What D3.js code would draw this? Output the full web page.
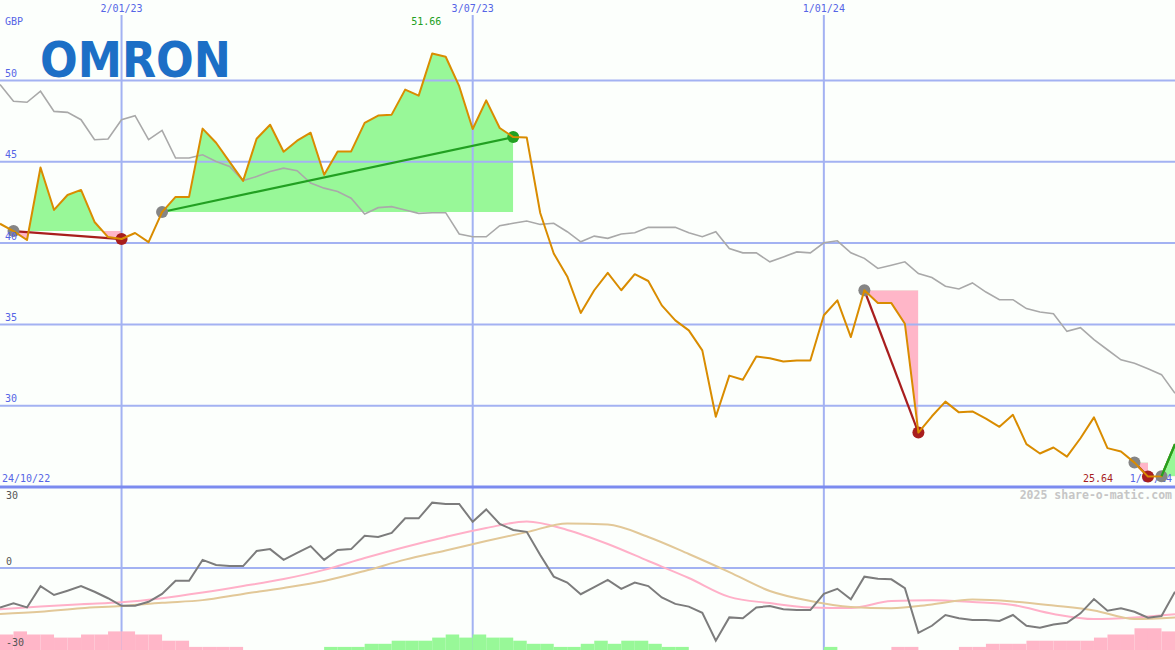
<!DOCTYPE html>
<html><head><meta charset="utf-8">
<script src="https://cdn.jsdelivr.net/npm/d3@7"></script>
<style>html,body{margin:0;padding:0;background:#fcfffc;overflow:hidden}svg{display:block}</style>
</head><body><svg id="c" width="1175" height="650"></svg>
<script>
// ---- data ----
const startDate = new Date(2022, 9, 31);
const endDate = new Date(2024, 6, 1);
const rangeLabelDates = [new Date(2022, 9, 24), new Date(2024, 6, 1)];
const tickDates = [new Date(2023, 0, 2), new Date(2023, 6, 3), new Date(2024, 0, 1)];
const priceTicks = [30, 35, 40, 45, 50];
const oscTicks = [30, 0, -30];
const currency = "GBP";
const companyName = "OMRON";
const watermark = "2025 share-o-matic.com";

const price = [
  41.19, 40.74, 40.19, 44.65, 42.04, 42.96, 43.27, 41.30, 40.37, 40.25,
  40.62, 40.06, 41.91, 42.84, 42.84, 47.04, 46.17, 45.00, 43.83, 46.42,
  47.28, 45.62, 46.30, 46.79, 44.20, 45.64, 45.64, 47.39, 47.84, 47.90,
  49.44, 49.07, 51.66, 51.46, 49.65, 47.02, 48.78, 47.08, 46.52, 46.50,
  41.85, 39.36, 37.95, 35.70, 37.10, 38.17, 37.10, 38.09, 37.67, 36.17,
  35.25, 34.63, 33.40, 29.32, 31.85, 31.60, 33.02, 32.92, 32.72, 32.78,
  32.78, 35.56, 36.48, 34.22, 37.10, 36.31, 36.31, 35.04, 28.35, 29.35,
  30.25, 29.59, 29.65, 29.20, 28.70, 29.44, 27.64, 27.06, 27.43, 26.87,
  28.00, 29.28, 27.39, 27.18, 26.50, 25.64, 25.66, 27.64
];
const relative = [
  49.75, 48.72, 48.66, 49.34, 48.10, 48.04, 47.59, 46.36, 46.40, 47.59,
  47.84, 46.36, 46.93, 45.23, 45.23, 45.43, 45.02, 44.71, 43.85, 44.09,
  44.40, 44.61, 44.45, 43.69, 43.38, 43.17, 42.76, 41.79, 42.18, 42.24,
  42.04, 41.83, 41.87, 41.87, 40.56, 40.39, 40.39, 41.07, 41.22, 41.36,
  41.15, 41.22, 40.70, 40.08, 40.43, 40.29, 40.56, 40.64, 40.97, 40.97,
  40.97, 40.64, 40.39, 40.70, 39.67, 39.40, 39.40, 38.85, 39.15, 39.46,
  39.40, 40.02, 40.14, 39.40, 39.06, 38.44, 38.64, 38.85, 38.13, 37.88,
  37.35, 37.18, 37.55, 36.99, 36.52, 36.52, 35.97, 35.76, 35.66, 34.57,
  34.80, 34.06, 33.44, 32.82, 32.61, 32.27, 31.91, 30.76
];
const momentum = [
  -14.6, -13.1, -14.6, -6.7, -10.0, -8.4, -6.7, -8.8, -11.2, -14.0,
  -14.0, -12.5, -9.6, -4.7, -4.7, 3.0, 1.1, 0.7, 0.7, 6.3,
  7.0, 3.0, 5.6, 8.1, 3.0, 6.7, 7.0, 11.9, 11.5, 13.0,
  18.4, 18.4, 24.2, 23.7, 23.7, 17.1, 21.7, 16.3, 14.1, 13.4,
  4.8, -3.2, -5.4, -9.7, -7.1, -4.4, -7.7, -5.4, -6.7, -10.9,
  -13.3, -14.3, -16.6, -26.9, -18.3, -18.6, -14.6, -14.1, -15.3, -15.6,
  -15.6, -9.6, -7.7, -11.6, -3.2, -4.0, -4.2, -7.5, -24.0, -21.4,
  -17.4, -18.6, -19.3, -19.3, -19.6, -17.4, -21.4, -22.1, -20.9, -20.3,
  -16.8, -11.5, -15.8, -14.9, -16.2, -18.4, -17.8, -8.8
];
// moving averages, sampled every 3rd week
const avgStep = 3;
const avgFast = [
  -15.3, -14.3, -13.4, -12.7, -11.2, -9.1, -6.7, -4.1, -0.7, 3.7,
  7.8, 11.5, 14.8, 17.2, 14.1, 8.9, 2.6, -3.7, -10.7, -13.0,
  -14.6, -14.8, -12.2, -11.9, -12.6, -13.7, -17.0, -18.9, -18.3, -17.1
];
const avgSlow = [
  -17.0, -16.2, -14.9, -14.1, -12.9, -11.9, -9.6, -7.4, -4.8, -1.1,
  3.1, 6.5, 10.0, 13.3, 16.5, 16.1, 11.5, 5.2, -1.5, -8.5,
  -12.2, -14.4, -14.9, -13.5, -11.7, -12.4, -13.9, -15.7, -18.9, -18.3
];
const histogram = [
  -5, -6, -5, -5, -4, -4, -5, -5, -6, -6,
  -5, -5, -3, -3, -1, -1, -1, -1, 0, 0,
  0, 0, 0, 0, 1, 1, 1, 2, 2, 3,
  3, 3, 4, 5, 4, 5, 4, 4, 3, 2,
  2, 1, 1, 2, 3, 2, 3, 3, 2, 1,
  1, 0, 0, 0, 0, 0, 0, 0, 0, 0,
  0, 1, 0, 0, 0, 0, -1, -1, 0, 0,
  0, -1, -1, -2, -2, -2, -3, -3, -3, -3,
  -3, -4, -5, -5, -7, -7, -6, -6
];
// trend segments: [start week, end week]; last one still running
const trendStarts = [1, 12, 64, 84, 86];
const trendEnds = [9, 38, 68, 85, 87];
const openTrend = 4;

// ---- chart ----
const W = 1175, H = 650;
const svg = d3.select("#c");
const dates = price.map((_, i) => d3.timeWeek.offset(startDate, i));
const x = d3.scaleTime().domain([startDate, endDate]).range([0, W]);
const y = d3.scaleLinear().domain([25, 50]).range([487, 80.5]);
const yo = d3.scaleLinear().domain([-30, 30]).range([649, 487]);
const yh = d3.scaleLinear().domain([0, 7]).range([650, 628.3]);
const fmt = d3.timeFormat("%-d/%m/%y");
const FONT = "'DejaVu Sans Mono', monospace";
const BLUE = "#5565e6", GRID = "#a3b2f2";
const UP = "#98f898", DOWN = "#ffb6c8", UPL = "#22a022", DOWNL = "#a81e1e";

svg.append("rect").attr("width", W).attr("height", H).attr("fill", "#fcfffc");
const defs = svg.append("defs");

// trend fills
const fills = svg.append("g");
trendStarts.forEach((s, t) => {
  const e = trendEnds[t];
  const base = price[s];
  const idx = d3.range(s, e + 1);
  const area = d3.area().x(i => x(dates[i])).y0(y(base)).y1(i => y(price[i]));
  const x0 = x(dates[s]), x1 = x(dates[e]);
  defs.append("clipPath").attr("id", "up" + t).append("rect")
    .attr("x", x0).attr("width", x1 - x0).attr("y", 0).attr("height", y(base));
  defs.append("clipPath").attr("id", "dn" + t).append("rect")
    .attr("x", x0).attr("width", x1 - x0).attr("y", y(base)).attr("height", 487 - y(base));
  fills.append("path").datum(idx).attr("d", area).attr("fill", UP).attr("clip-path", `url(#up${t})`);
  fills.append("path").datum(idx).attr("d", area).attr("fill", DOWN).attr("clip-path", `url(#dn${t})`);
});

// grid
const grid = svg.append("g");
grid.selectAll(".hg").data(priceTicks).join("line")
  .attr("x1", 0).attr("x2", W).attr("y1", d => y(d)).attr("y2", d => y(d))
  .attr("stroke", GRID).attr("stroke-width", 2);
grid.selectAll(".vg").data(tickDates).join("line")
  .attr("x1", d => x(d)).attr("x2", d => x(d)).attr("y1", 15).attr("y2", H)
  .attr("stroke", GRID).attr("stroke-width", 2);
grid.append("line").attr("x1", 0).attr("x2", W).attr("y1", yo(0)).attr("y2", yo(0))
  .attr("stroke", GRID).attr("stroke-width", 2);
grid.append("line").attr("x1", 0).attr("x2", W).attr("y1", 487).attr("y2", 487)
  .attr("stroke", "#7b8bef").attr("stroke-width", 3);

// histogram
const nextDate = i => d3.timeWeek.offset(startDate, i + 1);
svg.append("g").selectAll("rect").data(histogram.map((v, i) => ({v, i})).filter(d => d.v !== 0)).join("rect")
  .attr("x", d => x(dates[d.i])).attr("width", d => x(nextDate(d.i)) - x(dates[d.i]))
  .attr("y", d => yh(Math.abs(d.v))).attr("height", d => yh(0) - yh(Math.abs(d.v)))
  .attr("fill", d => d.v > 0 ? UP : DOWN);

// lower panel lines
const avgDates = avgFast.map((_, j) => dates[j * avgStep]);
const lineAvg = d3.line().x((_, j) => x(avgDates[j])).y(d => yo(d)).curve(d3.curveMonotoneX);
svg.append("path").datum(avgFast).attr("d", lineAvg).attr("fill", "none").attr("stroke", "#ffb0c8").attr("stroke-width", 2);
svg.append("path").datum(avgSlow).attr("d", lineAvg).attr("fill", "none").attr("stroke", "#e2c898").attr("stroke-width", 2);
svg.append("path").datum(momentum).attr("d", d3.line().x((_, i) => x(dates[i])).y(d => yo(d)))
  .attr("fill", "none").attr("stroke", "#7c7c7c").attr("stroke-width", 2);

// relative line
svg.append("path").datum(relative).attr("d", d3.line().x((_, i) => x(dates[i])).y(d => y(d)))
  .attr("fill", "none").attr("stroke", "#a9a9a9").attr("stroke-width", 1.6);

// trend lines
trendStarts.forEach((s, t) => {
  const e = trendEnds[t];
  svg.append("line").attr("x1", x(dates[s])).attr("y1", y(price[s]))
    .attr("x2", x(dates[e])).attr("y2", y(price[e]))
    .attr("stroke", price[e] >= price[s] ? UPL : DOWNL).attr("stroke-width", 2.2);
});

// range labels (under markers)
svg.append("text").attr("x", 2).attr("y", 482).text(fmt(rangeLabelDates[0]))
  .attr("font-family", FONT).attr("font-size", 10).attr("fill", BLUE);
svg.append("text").attr("x", 1172).attr("y", 482).attr("text-anchor", "end").text(fmt(rangeLabelDates[1]))
  .attr("font-family", FONT).attr("font-size", 10).attr("fill", BLUE);

// markers
trendStarts.forEach((s, t) => {
  const e = trendEnds[t];
  svg.append("circle").attr("cx", x(dates[s])).attr("cy", y(price[s])).attr("r", 6).attr("fill", "#858585");
  if (t !== openTrend) {
    svg.append("circle").attr("cx", x(dates[e])).attr("cy", y(price[e])).attr("r", 6)
      .attr("fill", price[e] >= price[s] ? UPL : DOWNL);
  }
});

// price line
svg.append("path").datum(price).attr("d", d3.line().x((_, i) => x(dates[i])).y(d => y(d)))
  .attr("fill", "none").attr("stroke", "#d98c00").attr("stroke-width", 2).attr("stroke-linejoin", "round");

// last trend line segment drawn above price
{
  const s = trendStarts[openTrend], e = trendEnds[openTrend];
  svg.append("line").attr("x1", x(dates[s])).attr("y1", y(price[s]))
    .attr("x2", x(dates[e])).attr("y2", y(price[e]))
    .attr("stroke", UPL).attr("stroke-width", 2.2);
}

// labels
const lab = svg.append("g").attr("font-family", FONT).attr("font-size", 10);
lab.append("text").attr("x", 5).attr("y", 25).attr("fill", BLUE).text(currency);
lab.selectAll(".pl").data(priceTicks).join("text")
  .attr("x", 5).attr("y", d => y(d) - 3.5).attr("fill", BLUE).text(d => d);
lab.selectAll(".tl").data(tickDates).join("text")
  .attr("x", d => x(d)).attr("y", 12).attr("text-anchor", "middle").attr("fill", BLUE).text(d => fmt(d));
lab.selectAll(".ol").data(oscTicks).join("text")
  .attr("x", 6).attr("y", d => d === 30 ? yo(d) + 12 : yo(d) - 3).attr("fill", "#555").text(d => d);

const iMax = d3.maxIndex(price), iMin = d3.minIndex(price);
lab.append("text").attr("x", x(dates[iMax]) - 6).attr("y", 25).attr("text-anchor", "middle")
  .attr("fill", UPL).text(price[iMax].toFixed(2));
lab.append("text").attr("x", x(dates[iMin]) - 35).attr("y", 482).attr("text-anchor", "end")
  .attr("fill", DOWNL).text(price[iMin].toFixed(2));

svg.append("text").attr("x", 1172).attr("y", 499).attr("text-anchor", "end")
  .attr("font-family", FONT).attr("font-size", 11.5).attr("font-weight", "bold")
  .attr("fill", "#c6c6c6").text(watermark);

// logo
svg.append("text").attr("x", 40).attr("y", 77).text(companyName)
  .attr("font-family", "'DejaVu Sans', sans-serif").attr("font-weight", "bold").attr("font-size", 50)
  .attr("textLength", 191).attr("lengthAdjust", "spacingAndGlyphs").attr("fill", "#1c6fc6");
</script></body></html>
